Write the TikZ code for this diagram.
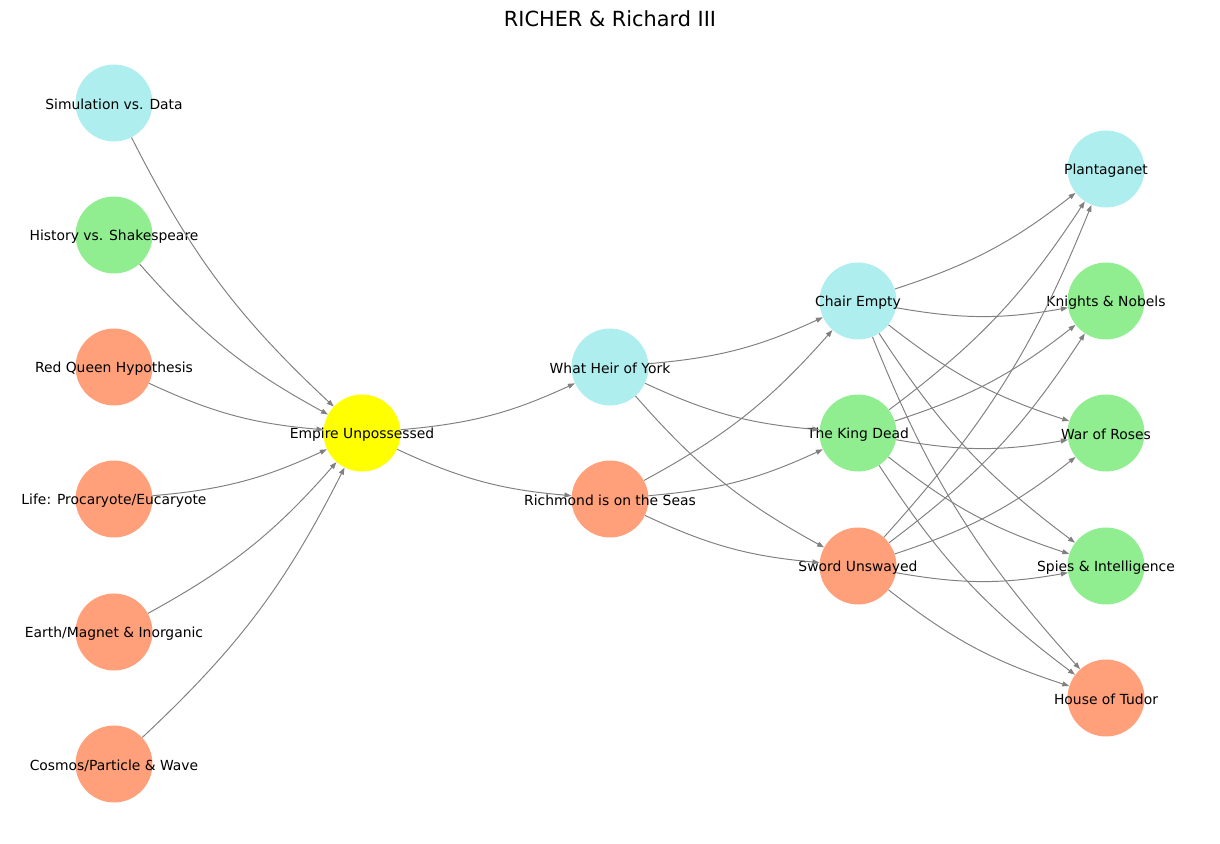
\documentclass[tikz,border=0pt]{standalone}
\usepackage{fontspec}
\setmainfont{DejaVu Sans}
\usepackage{xcolor}
\usetikzlibrary{arrows.meta,positioning}

\definecolor{salmon}{HTML}{FFA07A}
\definecolor{turq}{HTML}{AFEEEE}
\definecolor{lgreen}{HTML}{90EE90}
\definecolor{pureyellow}{HTML}{FFFF00}
\definecolor{edgegray}{HTML}{808080}

\tikzset{
  neuron/.style={circle,minimum size=55.4pt,inner sep=0pt,draw=none},
  every label/.style={font=\fontsize{10}{12}\selectfont,inner sep=0pt,yshift=-1.2pt},
  link/.style={draw=edgegray,line width=0.7pt,bend right=10,-{Triangle[length=5pt,width=3.6pt]}},
}

\begin{document}
\begin{tikzpicture}[x=0.72pt,y=-0.72pt]
\useasboundingbox (0,0) rectangle (1220,844);

\node[font=\fontsize{15}{18}\selectfont] (title) at (610,19) {RICHER \& Richard III};

% input column
\node[neuron,fill=turq,label=center:{Simulation vs. Data}] (sim) at (114,103) {};
\node[neuron,fill=lgreen,label=center:{History vs. Shakespeare}] (hist) at (114,235) {};
\node[neuron,fill=salmon,label=center:{Red Queen Hypothesis}] (rq) at (114,367) {};
\node[neuron,fill=salmon,label=center:{Life: Procaryote/Eucaryote}] (life) at (114,499) {};
\node[neuron,fill=salmon,label=center:{Earth/Magnet \& Inorganic}] (earth) at (114,632) {};
\node[neuron,fill=salmon,label=center:{Cosmos/Particle \& Wave}] (cosmos) at (114,764) {};

\node[neuron,fill=pureyellow,label=center:{Empire Unpossessed}] (emp) at (362,433) {};

\node[neuron,fill=turq,label=center:{What Heir of York}] (heir) at (610,367) {};
\node[neuron,fill=salmon,label=center:{Richmond is on the Seas}] (rich) at (610,499) {};

\node[neuron,fill=turq,label=center:{Chair Empty}] (chair) at (858,301) {};
\node[neuron,fill=lgreen,label=center:{The King Dead}] (king) at (858,433) {};
\node[neuron,fill=salmon,label=center:{Sword Unswayed}] (sword) at (858,566) {};

\node[neuron,fill=turq,label=center:{Plantaganet}] (plant) at (1106,169) {};
\node[neuron,fill=lgreen,label=center:{Knights \& Nobels}] (knights) at (1106,301) {};
\node[neuron,fill=lgreen,label=center:{War of Roses}] (roses) at (1106,433) {};
\node[neuron,fill=lgreen,label=center:{Spies \& Intelligence}] (spies) at (1106,566) {};
\node[neuron,fill=salmon,label=center:{House of Tudor}] (tudor) at (1106,698) {};

% edges
\foreach \a in {sim,hist,rq,life,earth,cosmos}
  \draw[link] (\a) to (emp);
\draw[link] (emp) to (heir);
\draw[link] (emp) to (rich);
\foreach \a in {heir,rich}
  \foreach \b in {chair,king,sword}
    \draw[link] (\a) to (\b);
\foreach \a in {chair,king,sword}
  \foreach \b in {plant,knights,roses,spies,tudor}
    \draw[link] (\a) to (\b);
\end{tikzpicture}
\end{document}
